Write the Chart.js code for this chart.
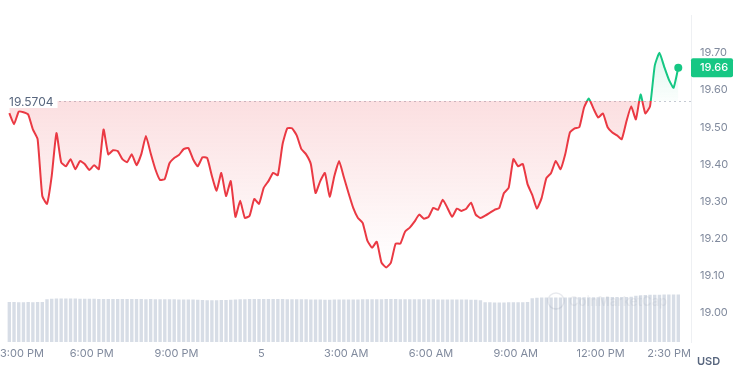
<!DOCTYPE html>
<html>
<head>
<meta charset="utf-8">
<script src="https://cdn.jsdelivr.net/npm/chart.js@4.4.1/dist/chart.umd.min.js"></script>
<style>
  html, body { margin: 0; padding: 0; background: #fff; }
  #wrap { width: 740px; height: 378px; }
</style>
</head>
<body>
<div id="wrap"><canvas id="chart"></canvas></div>
<script>
// price every 10 minutes, first sample at 3:05 PM
const prices = [
  19.538, 19.508, 19.542, 19.540, 19.534, 19.494, 19.468, 19.315, 19.294, 19.369,
  19.484, 19.406, 19.395, 19.414, 19.387, 19.409, 19.401, 19.385, 19.398, 19.387,
  19.494, 19.427, 19.438, 19.436, 19.414, 19.406, 19.427, 19.398, 19.427, 19.476,
  19.430, 19.387, 19.358, 19.361, 19.403, 19.417, 19.425, 19.441, 19.444, 19.414,
  19.395, 19.419, 19.417, 19.369, 19.329, 19.377, 19.315, 19.355, 19.259, 19.302,
  19.256, 19.262, 19.307, 19.294, 19.337, 19.355, 19.377, 19.371, 19.454, 19.497,
  19.497, 19.478, 19.441, 19.427, 19.401, 19.323, 19.355, 19.377, 19.313, 19.369,
  19.409, 19.366, 19.323, 19.283, 19.256, 19.243, 19.195, 19.176, 19.192, 19.136,
  19.123, 19.136, 19.187, 19.187, 19.219, 19.230, 19.246, 19.265, 19.254, 19.259,
  19.283, 19.278, 19.305, 19.283, 19.259, 19.281, 19.275, 19.281, 19.297, 19.265,
  19.256, 19.262, 19.270, 19.278, 19.283, 19.323, 19.337, 19.414, 19.395, 19.401,
  19.347, 19.318, 19.281, 19.310, 19.363, 19.377, 19.409, 19.387, 19.427, 19.486,
  19.497, 19.500, 19.553, 19.577, 19.550, 19.526, 19.537, 19.500, 19.486, 19.478,
  19.468, 19.516, 19.556, 19.521, 19.588, 19.537, 19.556, 19.665, 19.700, 19.663,
  19.628, 19.606, 19.660
];

// volume (M), same timestamps
const volumes = [
  4.02, 4.01, 4.00, 4.00, 4.01, 4.00, 4.02, 4.03,
  4.30, 4.34, 4.36, 4.37, 4.37, 4.36, 4.36, 4.35, 4.35, 4.34, 4.34, 4.33,
  4.33, 4.33, 4.32, 4.32, 4.33, 4.32, 4.32, 4.31, 4.31, 4.30, 4.31, 4.30,
  4.30, 4.30, 4.29, 4.29, 4.28, 4.28, 4.27, 4.26, 4.24, 4.22,
  4.20, 4.20, 4.20, 4.21, 4.22, 4.24,
  4.27, 4.29, 4.30, 4.31, 4.31, 4.32, 4.32, 4.32, 4.31, 4.31,
  4.31, 4.30, 4.30, 4.30, 4.29, 4.29, 4.28, 4.27, 4.26, 4.25, 4.24,
  4.26, 4.27, 4.27, 4.28, 4.28, 4.28, 4.29, 4.29, 4.30, 4.30,
  4.30, 4.31, 4.31, 4.31, 4.30, 4.30, 4.30, 4.30, 4.29, 4.29,
  4.29, 4.29, 4.28, 4.28, 4.28, 4.28, 4.27, 4.27, 4.26, 4.25, 4.24, 4.20,
  4.00, 3.99, 3.98, 3.98, 3.98, 3.99, 3.99, 4.00, 4.00, 4.02,
  4.40, 4.45, 4.46, 4.47, 4.47, 4.48, 4.48, 4.48, 4.48, 4.49, 4.49,
  4.49, 4.50, 4.50, 4.50, 4.50, 4.51, 4.51, 4.51, 4.52, 4.53, 4.55,
  4.64, 4.70, 4.72, 4.74, 4.75, 4.76, 4.77, 4.77, 4.78, 4.78
];

const startMinute = 5;   // minutes after 3:00 PM
const stepMinutes = 10;

const xTickMinutes = [0, 180, 360, 540, 720, 900, 1080, 1260, 1410];
const xTickLabels = ['3:00 PM', '6:00 PM', '9:00 PM', '5', '3:00 AM', '6:00 AM', '9:00 AM', '12:00 PM', '2:30 PM'];
const yTicks = [19.00, 19.10, 19.20, 19.30, 19.40, 19.50, 19.60, 19.70];

const openPrice = 19.5704;
const lastPrice = 19.66;

const GREEN = '#16c784';
const RED = '#ea3943';
const GREY = '#808a9d';

Chart.defaults.font.family = 'Inter, "Noto Sans", sans-serif';

const minutes = prices.map((p, i) => startMinute + i * stepMinutes);

// split colour at the open price line
function splitGradient(chart, top, bottom) {
  const area = chart.chartArea;
  const y = chart.scales.y.getPixelForValue(openPrice);
  const stop = Math.min(1, Math.max(0, (y - area.top) / (area.bottom - area.top)));
  const g = chart.ctx.createLinearGradient(0, area.top, 0, area.bottom);
  g.addColorStop(0, top[0]);
  g.addColorStop(stop, top[1]);
  g.addColorStop(stop, bottom[0]);
  g.addColorStop(Math.min(1, stop + 0.5), bottom[1]);
  g.addColorStop(1, bottom[1]);
  return g;
}

const overlay = {
  id: 'overlay',
  beforeDatasetsDraw(chart) {
    const { ctx, chartArea: a, scales: { y } } = chart;
    const yy = Math.round(y.getPixelForValue(openPrice)) + 0.5;
    ctx.save();
    ctx.strokeStyle = '#c5cad3';
    ctx.lineWidth = 1;
    ctx.setLineDash([2, 3]);
    ctx.beginPath();
    ctx.moveTo(a.left, yy);
    ctx.lineTo(a.right, yy);
    ctx.stroke();
    ctx.restore();
  },
  afterDatasetsDraw(chart) {
    const { ctx, chartArea: a, scales: { x, y } } = chart;
    ctx.save();

    // watermark
    ctx.strokeStyle = 'rgba(130,140,160,0.18)';
    ctx.lineWidth = 1.5;
    ctx.beginPath();
    ctx.arc(556, 301, 8, 0, Math.PI * 2);
    ctx.stroke();
    ctx.fillStyle = 'rgba(130,140,160,0.12)';
    ctx.font = '600 13px Inter';
    ctx.textBaseline = 'middle';
    ctx.fillText('CoinMarketCap', 569, 302);

    // open price label
    const yy = y.getPixelForValue(openPrice);
    ctx.font = '12px Inter';
    const label = openPrice.toFixed(4);
    const w = ctx.measureText(label).width;
    ctx.fillStyle = '#fff';
    ctx.fillRect(a.left, yy - 8, w + 9, 15);
    ctx.fillStyle = '#58667e';
    ctx.textAlign = 'left';
    ctx.fillText(label, a.left + 5, yy + 1);

    // x labels (kept inside the canvas)
    ctx.font = '11px Inter';
    ctx.fillStyle = GREY;
    xTickMinutes.forEach((m, i) => {
      const px = x.getPixelForValue(m);
      const tw = ctx.measureText(xTickLabels[i]).width;
      const left = Math.max(0, Math.min(a.right - tw, px - tw / 2));
      ctx.fillText(xTickLabels[i], left, 354);
    });

    // last price tag
    const py = y.getPixelForValue(lastPrice);
    ctx.fillStyle = GREEN;
    ctx.beginPath();
    ctx.roundRect(a.right, py - 9.5, 42, 19, 2);
    ctx.fill();
    ctx.fillStyle = '#fff';
    ctx.font = '500 11px Inter';
    ctx.fillText(lastPrice.toFixed(2), a.right + 9, py + 0.5);

    // currency
    ctx.fillStyle = '#58667e';
    ctx.font = '600 11px Inter';
    ctx.fillText('USD', 697, 362);
    ctx.restore();
  }
};

new Chart(document.getElementById('chart'), {
  data: {
    datasets: [
      {
        type: 'line',
        label: 'Price',
        data: minutes.map((m, i) => ({ x: m, y: prices[i] })),
        yAxisID: 'y',
        order: 1,
        borderWidth: 2,
        tension: 0.15,
        borderColor: c => c.chart.chartArea
          ? splitGradient(c.chart, [GREEN, GREEN], [RED, RED])
          : RED,
        backgroundColor: c => c.chart.chartArea
          ? splitGradient(c.chart,
              ['rgba(22,199,132,0.22)', 'rgba(22,199,132,0.02)'],
              ['rgba(234,57,67,0.16)', 'rgba(234,57,67,0.0)'])
          : 'transparent',
        fill: { value: openPrice },
        pointRadius: c => c.dataIndex === prices.length - 1 ? 4 : 0,
        pointHoverRadius: 0,
        pointBackgroundColor: GREEN,
        pointBorderColor: GREEN,
        pointBorderWidth: 0
      },
      {
        type: 'bar',
        label: 'Volume',
        data: minutes.map((m, i) => ({ x: m, y: volumes[i] })),
        yAxisID: 'y2',
        order: 2,
        backgroundColor: '#d7dde6',
        barPercentage: 0.72,
        categoryPercentage: 1
      }
    ]
  },
  options: {
    responsive: true,
    maintainAspectRatio: false,
    animation: false,
    layout: { padding: { top: 14, bottom: 36, left: 0, right: 0 } },
    plugins: {
      legend: { display: false },
      tooltip: { enabled: false }
    },
    scales: {
      x: {
        type: 'linear',
        min: -6.3,
        max: 1452,
        offset: false,
        display: false,
        ticks: { display: false },
        grid: { offset: false }
      },
      y: {
        position: 'right',
        min: 18.9225,
        max: 19.80,
        afterBuildTicks: s => { s.ticks = yTicks.map(v => ({ value: v })); },
        afterFit: s => { s.width = 49; },
        grid: { display: false, drawTicks: false },
        border: { display: true, color: '#eef0f3' },
        ticks: {
          color: GREY,
          font: { size: 11 },
          padding: 9,
          callback: v => v.toFixed(2)
        }
      },
      y2: {
        display: false,
        position: 'right',
        min: 0,
        max: 32.8,
        ticks: { display: false },
        afterFit: s => { s.width = 0; }
      }
    }
  },
  plugins: [overlay]
});
</script>
</body>
</html>
